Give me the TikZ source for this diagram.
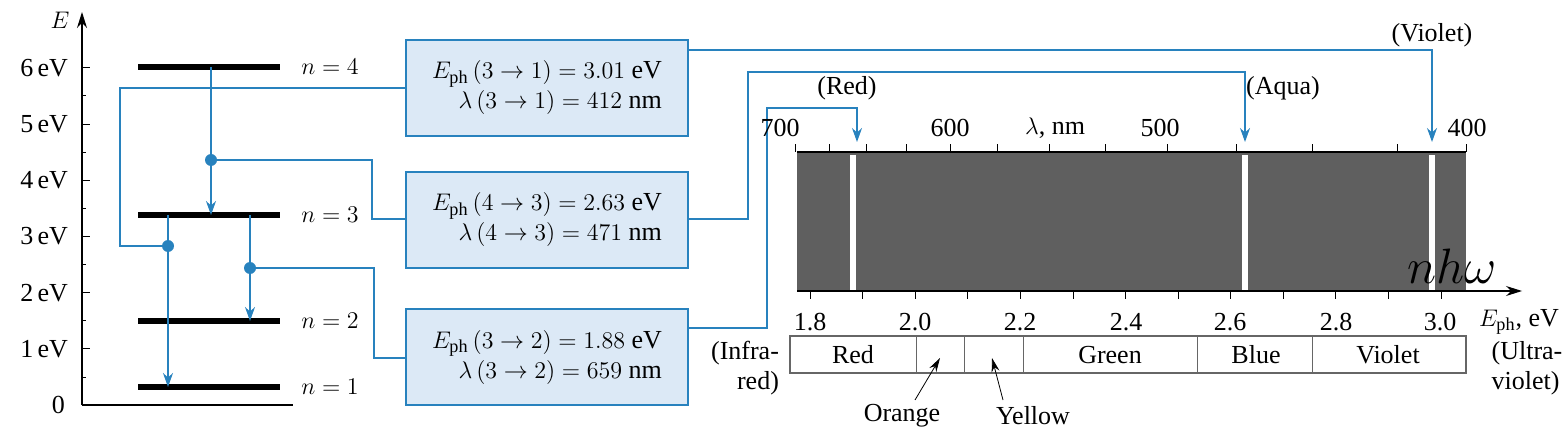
\documentclass[tikz,border=0pt]{standalone}
\usepackage{fontspec}
\setmainfont{Liberation Serif}
\usetikzlibrary{arrows.meta}
\definecolor{lb}{RGB}{40,130,190}
\definecolor{boxf}{RGB}{220,233,246}
\definecolor{spec}{RGB}{95,95,95}
\begin{document}
\begin{tikzpicture}[x=0.5pt,y=-0.5pt,font=\fontsize{13}{15}\selectfont,
  lvl/.style={line width=3.2pt},
  conn/.style={draw=lb,line width=0.7pt},
  tr/.style={draw=lb,line width=0.8pt,-{Stealth[length=7pt,width=5pt]}},
  dotc/.style={circle,fill=lb,inner sep=0,minimum size=6pt},
  ebox/.style={draw=lb,fill=boxf,line width=0.8pt,minimum width=141pt,minimum height=48pt,align=right}]
\useasboundingbox (0,0) rectangle (1563,443);
% axis
\draw[line width=0.6pt,-{Stealth[length=8pt,width=5pt]}] (82,405) -- (82,12);
\draw[line width=0.6pt] (82,405) -- (293,405);
\node (E) at (60,20) {$E$};
\foreach \v/\l in {1/1\,eV,2/2\,eV,3/3\,eV,4/4\,eV,5/5\,eV,6/6\,eV}{
  \draw (82,405-56.2*\v) -- (90,405-56.2*\v);
  \node[anchor=east] at (75,405-56.2*\v) {\l};}
\foreach \v in {0.5,1.5,2.5,3.5,4.5,5.5}{\draw (82,405-56.2*\v) -- (86,405-56.2*\v);}
\node[anchor=east] at (72,405) {0};
% levels
\foreach \n/\y in {4/67,3/215,2/321,1/387}{
  \draw[lvl] (138,\y) -- (280,\y);
  \node (n\n) at (330,\y) {$n=\n$};}
% transitions
\coordinate (a1) at (211,67); \coordinate (a2) at (211,215);
\coordinate (b1) at (168,215); \coordinate (b2) at (168,387);
\coordinate (c1) at (250,215); \coordinate (c2) at (250,321);
\draw[tr] (a1) -- (a2);
\draw[tr] (b1) -- (b2);
\draw[tr] (c1) -- (c2);
\node[dotc] (d43) at (211,160) {};
\node[dotc] (d31) at (168,246) {};
\node[dotc] (d32) at (250,268) {};
% boxes
\node[ebox] (B1) at (547,88) {$E_{\mathrm{ph}}\,(3\rightarrow 1) = 3.01$ eV\\ $\lambda\,(3\rightarrow 1) = 412$ nm};
\node[ebox] (B2) at (547,220) {$E_{\mathrm{ph}}\,(4\rightarrow 3) = 2.63$ eV\\ $\lambda\,(4\rightarrow 3) = 471$ nm};
\node[ebox] (B3) at (547,357) {$E_{\mathrm{ph}}\,(3\rightarrow 2) = 1.88$ eV\\ $\lambda\,(3\rightarrow 2) = 659$ nm};
\draw[conn] (d43) -- (372,160) -- (372,219) -- (B2.west|-0,219);
\draw[conn] (d31) -- (120,246) -- (120,88) -- (B1.west|-0,88);
\draw[conn] (d32) -- (374,268) -- (374,358) -- (B3.west|-0,358);
% spectrum
\node[fill=spec,minimum width=334.5pt,minimum height=69.5pt,inner sep=0] (S) at (1131.5,221.5) {};
\foreach \x in {853,1245,1432}{\fill[white] (\x-3,155) rectangle (\x+3,290);}
\coordinate (t1) at (857,142); \coordinate (t2) at (1245,142); \coordinate (t3) at (1432,142);
\draw[conn,-{Stealth[length=7pt,width=5pt]}] (B1.east|-0,50) -- (1432,50) -- (t3);
\draw[conn,-{Stealth[length=7pt,width=5pt]}] (B2.east|-0,219) -- (748,219) -- (748,72) -- (1245,72) -- (t2);
\draw[conn,-{Stealth[length=7pt,width=5pt]}] (B3.east|-0,328) -- (767,328) -- (767,108) -- (857,108) -- (t1);
\node at (847,88) {(Red)};
\node at (1283,88) {(Aqua)};
\node at (1432,35) {(Violet)};
% top lambda axis
\draw[line width=0.6pt] (797,152) -- (1466,152);
\foreach \l in {700,675,650,625,600,575,550,525,500,475,450,425}{
  \pgfmathsetmacro{\xx}{810+(1240/\l-1.8)*525.8}
  \draw (\xx,152) -- (\xx,144);}
\draw (1466,152) -- (1466,144);
\node at (780,128) {700};
\node at (950,128) {600};
\node at (1055,128) {$\lambda$, nm};
\node at (1160,128) {500};
\node at (1467,128) {400};
% bottom energy axis
\draw[line width=0.6pt,-{Stealth[length=8pt,width=5pt]}] (797,291) -- (1522,291);
\foreach \k in {0,...,12}{\draw (810+52.58*\k,291) -- (810+52.58*\k,299);}
\foreach \e/\x in {1.8/810,2.0/915,2.2/1020,2.4/1126,2.6/1230,2.8/1336,3.0/1440}{\node at (\x,322) {\e};}
\node[anchor=west] at (1472,322) {$E_{\mathrm{ph}}$, eV};
\node at (1452,266) {\fontsize{24}{26}\selectfont$nh\omega$};
% colour bar
\draw[line width=0.6pt,draw=black!60] (790,336) rectangle (1466,373);
\foreach \x in {916,964,1023,1197,1312}{\draw[draw=black!60] (\x,336) -- (\x,373);}
\node at (853,355) {Red};
\node at (1110,355) {Green};
\node at (1256,355) {Blue};
\node at (1388,355) {Violet};
\node[align=right] at (745,368) {(Infra-\\red)};
\node[align=left] at (1527,368) {(Ultra-\\violet)};
\node (or) at (902,416) {Orange};
\node (ye) at (1033,416) {Yellow};
\draw[-{Stealth[length=7pt,width=4pt]}] (915,400) -- (940,358);
\draw[-{Stealth[length=7pt,width=4pt]}] (1003,400) -- (992,358);
\end{tikzpicture}
\end{document}
